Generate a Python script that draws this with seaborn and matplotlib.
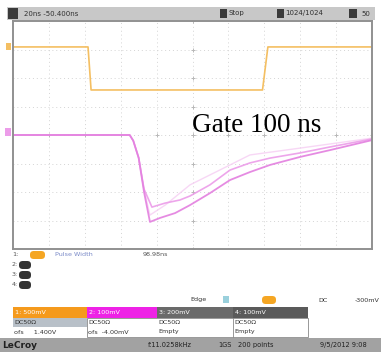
import numpy as np
import pandas as pd
import matplotlib
matplotlib.use("Agg")
import matplotlib.pyplot as plt
import seaborn as sns
from matplotlib.patches import Rectangle, FancyBboxPatch

# ---------------- data (time in ns, amplitude in divisions) ----------------
gate_t = [0, 41.8, 43.5, 139.0, 142.0, 200]
gate_v = [3.09, 3.09, 1.58, 1.58, 3.09, 3.09]

pulse_a_t = [0, 65.0, 67.0, 70.0, 73.0, 76.3, 81.9, 90.3, 98.6, 109.7, 120.9, 132.0, 143.2, 159.9, 176.6, 200]
pulse_a_v = [0.0, 0.0, -0.2, -0.8, -2.0, -3.05, -2.91, -2.74, -2.46, -2.04, -1.58, -1.30, -1.05, -0.77, -0.53, -0.18]

pulse_b_t = [0, 65.0, 67.0, 70.0, 73.0, 77.4, 84.7, 93.0, 98.6, 109.7, 120.9, 132.0, 143.2, 159.9, 176.6, 200]
pulse_b_v = [0.0, 0.0, -0.2, -0.8, -1.9, -2.53, -2.39, -2.28, -2.14, -1.75, -1.23, -0.98, -0.81, -0.63, -0.42, -0.14]

pulse_c_t = [0, 65.0, 67.0, 70.0, 73.0, 76.3, 85.0, 98.6, 120.9, 132.0, 159.9, 200]
pulse_c_v = [0.0, 0.0, -0.2, -0.8, -1.9, -2.81, -2.45, -1.75, -1.05, -0.70, -0.46, -0.11]

annotation = "Gate 100 ns"
header_texts = ["20ns -50.400ns", "Stop", "1024/1024", "50"]
channel_labels = ["1: 500mV", "2: 100mV", "3: 200mV", "4: 100mV"]
coupling_labels = ["DC50\u03a9", "DC50\u03a9", "DC50\u03a9", "DC50\u03a9"]
offset_labels = ["ofs     1.400V", "ofs  -4.00mV", "Empty", "Empty"]
measure_label = ["Pulse Width", "98.98ns"]
trigger_texts = ["Edge", "C1", "DC", "-300mV"]
status_texts = ["LeCroy", "f:11.0258kHz", "1GS", "200 points", "9/5/2012 9:08"]

# ---------------- figure ----------------
W, H = 381, 352
sns.set_theme(style="white")
plt.rcParams['font.family'] = ['DejaVu Sans']
fig = plt.figure(figsize=(W / 100, H / 100), dpi=100)
fig.patch.set_facecolor("white")

def fx(x):
    return x / W

def fy(y):
    return 1 - y / H

def box(x0, y0, x1, y1, color, ec="none", lw=0):
    fig.patches.append(Rectangle((fx(x0), fy(y1)), fx(x1) - fx(x0), fy(y0) - fy(y1),
                                 transform=fig.transFigure, facecolor=color,
                                 edgecolor=ec, linewidth=lw))

def txt(x, y, s, color="#333333", size=4.6, weight="normal", ha="left"):
    fig.text(fx(x), fy(y), s, color=color, fontsize=size, weight=weight,
             ha=ha, va="center")

# header bar
box(7, 7, 375, 20, "#c8c8c8")
box(8, 8, 18, 19, "#3a3a3a")
txt(24, 13.5, header_texts[0], "#303030", 5.0)
box(220, 9, 227, 18, "#3a3a3a")
txt(228, 13.5, header_texts[1], "#303030", 5.0)
box(277, 9, 284, 18, "#3a3a3a")
txt(285, 13.5, header_texts[2], "#303030", 5.0)
box(349, 9, 357, 18, "#3a3a3a")
txt(361, 13.5, header_texts[3], "#303030", 5.0)

# main scope axes
ax = fig.add_axes([fx(13), fy(249), fx(372) - fx(13), fy(21) - fy(249)])
ax.set_xlim(0, 200)
ax.set_ylim(-4, 4)
ax.set_facecolor("white")
for xv in np.arange(20, 200, 20):
    ax.axvline(xv, color="#d4d4d4", lw=0.7, ls=(0, (1, 3)), zorder=0)
for yv in np.arange(-3, 4, 1):
    ax.axhline(yv, color="#d4d4d4", lw=0.7, ls=(0, (1, 3)), zorder=0)
# centre crosshair ticks
ax.plot(np.full(9, 100), np.arange(-4, 5, 1), ls="none", marker="+", ms=3, color="#b8b8b8", mew=0.7)
ax.plot(np.arange(0, 201, 20), np.zeros(11), ls="none", marker="+", ms=3, color="#b8b8b8", mew=0.7)

df = pd.concat([
    pd.DataFrame({"t": gate_t, "v": gate_v, "trace": "gate"}),
    pd.DataFrame({"t": pulse_a_t, "v": pulse_a_v, "trace": "a"}),
    pd.DataFrame({"t": pulse_b_t, "v": pulse_b_v, "trace": "b"}),
    pd.DataFrame({"t": pulse_c_t, "v": pulse_c_v, "trace": "c"}),
])
sns.lineplot(data=df[df.trace == "gate"], x="t", y="v", color="#f4bf62", lw=1.2,
             sort=False, ax=ax, estimator=None)
sns.lineplot(data=df[df.trace == "c"], x="t", y="v", color="#f6cdf3", lw=1.0,
             sort=False, ax=ax, estimator=None, alpha=0.8)
sns.lineplot(data=df[df.trace == "b"], x="t", y="v", color="#ec9ce9", lw=1.2,
             sort=False, ax=ax, estimator=None, alpha=0.9)
sns.lineplot(data=df[df.trace == "a"], x="t", y="v", color="#e37fdf", lw=1.3,
             sort=False, ax=ax, estimator=None, alpha=0.9)
ax.set_xlabel("")
ax.set_ylabel("")
ax.set_xticks([])
ax.set_yticks([])
for s in ax.spines.values():
    s.set_color("#909090")
    s.set_linewidth(1.4)
    s.set_visible(True)

ax.text(100, 0.1, annotation, fontsize=19.5, family="Liberation Serif",
        color="black", ha="left", va="baseline")

# channel markers at left
box(6, 43, 11, 50, "#f4bf62")
box(5, 128, 11, 136, "#ec9ce9")

# measurement rows
txt(12, 255, "1:", "#555555", 4.6)
fig.patches.append(FancyBboxPatch((fx(30), fy(259)), fx(15), fy(251) - fy(259),
                                  boxstyle="round,pad=0,rounding_size=0.01",
                                  transform=fig.transFigure, facecolor="#f5a623", edgecolor="none"))
txt(55, 255, measure_label[0], "#7a8ac8", 4.6)
txt(143, 255, measure_label[1], "#555555", 4.6)
for i, yy in enumerate([265, 275, 285]):
    txt(12, yy, f"{i + 2}:", "#555555", 4.6)
    fig.patches.append(FancyBboxPatch((fx(19), fy(yy + 4)), fx(12), fy(yy - 4) - fy(yy + 4),
                                      boxstyle="round,pad=0,rounding_size=0.01",
                                      transform=fig.transFigure, facecolor="#333333", edgecolor="none"))

# trigger row
txt(190, 300, trigger_texts[0], "#333333", 4.6)
box(223, 296, 229, 303, "#9ad0dc")
fig.patches.append(FancyBboxPatch((fx(262), fy(304)), fx(14), fy(296) - fy(304),
                                  boxstyle="round,pad=0,rounding_size=0.01",
                                  transform=fig.transFigure, facecolor="#f5a623", edgecolor="none"))
txt(318, 300, trigger_texts[2], "#333333", 4.6)
txt(355, 300, trigger_texts[3], "#333333", 4.6)

# channel table
col_x = [13, 87, 157, 233, 308]
col_bg = ["#f59a1c", "#ee22e6", "#6a6a6a", "#5a5a5a"]
for i in range(4):
    box(col_x[i], 307, col_x[i + 1], 318, col_bg[i])
    txt(col_x[i] + 2, 312.5, channel_labels[i], "white", 4.6)
box(13, 318, 87, 327, "#b8c0c8")
box(87, 318, 308, 337, "white", ec="#888888", lw=0.6)
for i in range(4):
    txt(col_x[i] + 1, 322.5, coupling_labels[i], "#333333", 4.6)
    txt(col_x[i] + 1, 332, offset_labels[i], "#333333", 4.6)
fig.lines.append(plt.Line2D([fx(233), fx(233)], [fy(318), fy(337)],
                            transform=fig.transFigure, color="#888888", lw=0.6))

# status bar
box(0, 338, 381, 352, "#a2a2a2")
txt(2, 345, status_texts[0], "#202020", 6.5, "bold")
txt(148, 345, status_texts[1], "#202020", 4.8)
txt(218, 345, status_texts[2], "#202020", 4.8)
txt(238, 345, status_texts[3], "#202020", 4.8)
txt(320, 345, status_texts[4], "#202020", 4.8)

fig.savefig("out.png", dpi=100, facecolor="white")
